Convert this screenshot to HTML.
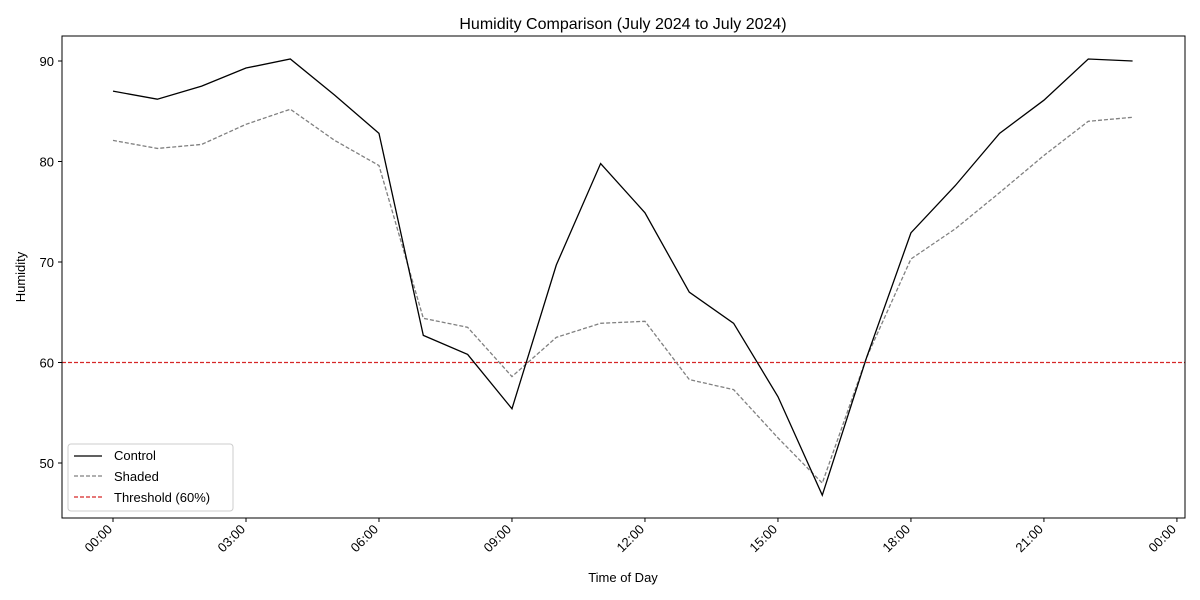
<!DOCTYPE html>
<html><head><meta charset="utf-8"><style>
html,body{margin:0;padding:0;background:#fff;}
svg{font-family:"Liberation Sans","DejaVu Sans",sans-serif;display:block}
</style></head><body>
<svg id="chart" width="1200" height="600">
<text x="623" y="29" font-size="16" text-anchor="middle">Humidity Comparison (July 2024 to July 2024)</text>
<g id="grid"></g>
<g id="series"></g>
<rect x="62" y="36" width="1123" height="482" fill="none" stroke="#000" stroke-width="1"/>
<text x="623" y="582" font-size="13" text-anchor="middle">Time of Day</text>
<text transform="translate(25,277) rotate(-90)" font-size="13" text-anchor="middle">Humidity</text>
<g>
<rect x="68" y="444" width="165" height="67" rx="3" fill="#fff" stroke="#ccc"/>
<line x1="74" y1="456" x2="102" y2="456" stroke="#000" stroke-width="1.3"/>
<text x="114" y="460" font-size="13">Control</text>
<line x1="74" y1="476" x2="102" y2="476" stroke="#808080" stroke-width="1.3" stroke-dasharray="4,2"/>
<text x="114" y="481" font-size="13">Shaded</text>
<line x1="74" y1="497" x2="102" y2="497" stroke="#d62728" stroke-width="1.3" stroke-dasharray="4,2"/>
<text x="114" y="502" font-size="13">Threshold (60%)</text>
</g>
</svg>
<script>
const hours = [0,1,2,3,4,5,6,7,8,9,10,11,12,13,14,15,16,17,18,19,20,21,22,23];
const control = [87.0,86.2,87.5,89.3,90.2,86.6,82.8,62.7,60.8,55.4,69.7,79.8,74.9,67.0,63.9,56.6,46.8,60.5,72.9,77.6,82.8,86.1,90.2,90.0];
const shaded = [82.1,81.3,81.7,83.7,85.2,82.1,79.6,64.4,63.5,58.6,62.5,63.9,64.1,58.3,57.3,52.5,48.0,60.5,70.3,73.3,76.9,80.6,84.0,84.4];
const threshold = 60;
const yTicks = [50,60,70,80,90];
const xTickHours = [0,3,6,9,12,15,18,21,24];
const xTickLabels = ["00:00","03:00","06:00","09:00","12:00","15:00","18:00","21:00","00:00"];

const NS="http://www.w3.org/2000/svg";
const xS = h => 113 + h*44.33;
const yS = v => 61 + (90-v)*10.05;
const grid=document.getElementById('grid'), ser=document.getElementById('series');
function mk(tag,attrs,parent){const e=document.createElementNS(NS,tag);for(const k in attrs)e.setAttribute(k,attrs[k]);parent.appendChild(e);return e;}
yTicks.forEach(v=>{
  const t=mk('line',{x1:58,x2:62,y1:yS(v),y2:yS(v),stroke:'#000'},grid);
  
  
  const l=mk('text',{x:54,y:yS(v)+5,'font-size':13,'text-anchor':'end'},grid);
  l.textContent=v;
  
  
});
xTickHours.forEach((h,i)=>{
  const x=xS(h);
  const t=mk('line',{x1:x,x2:x,y1:518,y2:522,stroke:'#000'},grid);
  
  
  const l=mk('text',{'font-size':13,'text-anchor':'end',transform:`translate(${x},${530}) rotate(-45)`},grid);
  l.textContent=xTickLabels[i];
  
  
});
const th=mk('line',{x1:62,x2:1185,y1:yS(threshold),y2:yS(threshold),stroke:'#d62728','stroke-width':1.2,'stroke-dasharray':'4,2'},ser);


const pts=a=>a.map((v,i)=>xS(hours[i])+','+yS(v)).join(' ');
const s=mk('polyline',{points:pts(shaded),fill:'none',stroke:'#808080','stroke-width':1.3,'stroke-dasharray':'4,2'},ser);


const c=mk('polyline',{points:pts(control),fill:'none',stroke:'#000','stroke-width':1.3},ser);


</script>
</body></html>
